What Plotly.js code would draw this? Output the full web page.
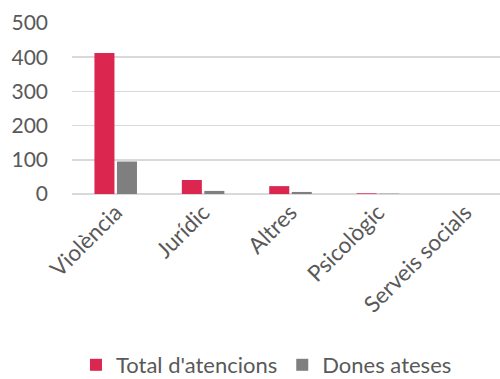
<!DOCTYPE html>
<html><head><meta charset="utf-8">
<script src="https://cdn.plot.ly/plotly-3.0.1.min.js"></script>
<style>html,body{margin:0;padding:0;overflow:hidden;background:#fff;width:500px;height:379px}#c{width:510px;height:379px}</style>
</head><body><div id="c"></div>
<script>
const categories = ["Violència", "Jurídic", "Altres", "Psicològic", "Serveis socials"];
const totalAtencions = [412, 41, 23, 2, 0];
const donesAteses = [95, 9, 6, 1, 0];
const yTicks = [0, 100, 200, 300, 400, 500];

const font = {family: "Lato, 'Open Sans', sans-serif", color: "#595959"};
const fs = 22.5;
const data = [
  {type: "bar", name: "Total d'atencions", x: categories, y: totalAtencions,
   marker: {color: "#DB2750"}},
  {type: "bar", name: "Dones ateses", x: categories, y: donesAteses,
   marker: {color: "#7F7F7F"}}
];
const layout = {
  width: 510, height: 379,
  margin: {l: 72, r: 1, t: 23, b: 185, autoexpand: false},
  paper_bgcolor: "#fff", plot_bgcolor: "#fff",
  barmode: "group", bargap: 0.485, bargroupgap: 0.11,
  font: Object.assign({size: fs}, font),
  showlegend: true,
  legend: {orientation: "h", x: 0.445, xanchor: "center", y: -1.0, yanchor: "middle",
           font: Object.assign({size: 22}, font), traceorder: "normal", itemwidth: 30},
  xaxis: {type: "category", tickangle: -45, tickfont: Object.assign({size: fs}, font),
          showgrid: false, zeroline: false, showline: false, ticks: "", ticklen: 0, automargin: false},
  yaxis: {range: [0, 500], tickvals: yTicks, ticktext: yTicks.map(String),
          tickfont: Object.assign({size: 21}, font), showgrid: true, gridcolor: "#D9D9D9",
          gridwidth: 1.5, zeroline: true, zerolinecolor: "#D9D9D9", zerolinewidth: 1.5,
          showline: false, ticks: "", ticklabelstandoff: 23, automargin: false}
};
Plotly.newPlot("c", data, layout, {displayModeBar: false, staticPlot: true});
</script></body></html>
